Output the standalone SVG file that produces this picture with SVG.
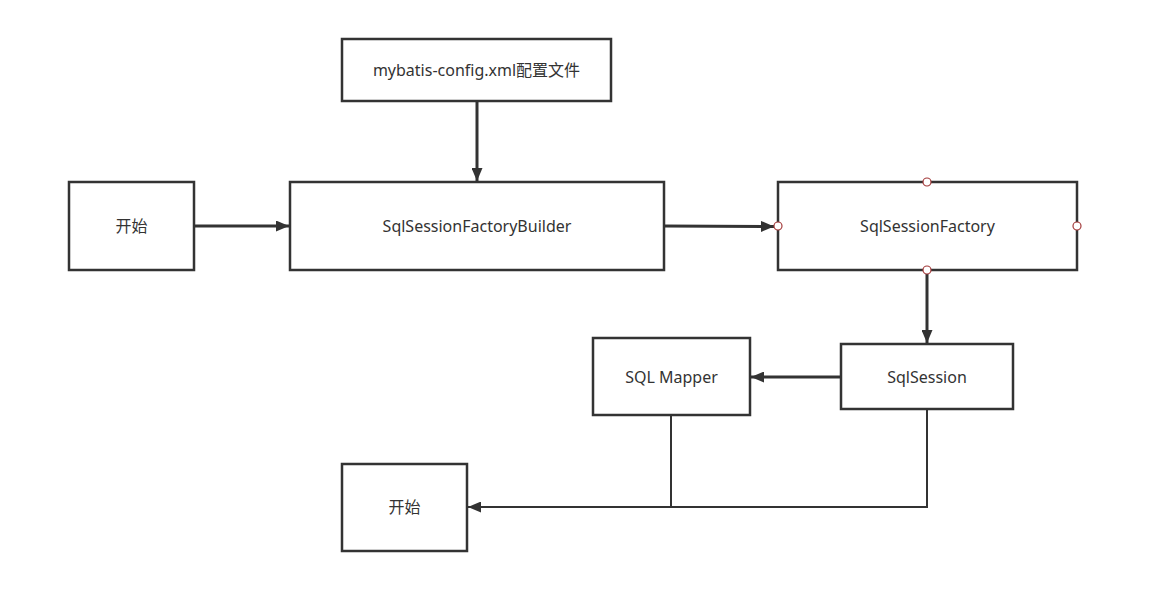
<svg xmlns="http://www.w3.org/2000/svg" width="1164" height="605" viewBox="0 0 1164 605">
<defs>
<style>
.box{fill:#fff;stroke:#333;stroke-width:2.5}
.lbl{font-family:"Noto Sans","Noto Sans CJK SC",sans-serif;font-size:16px;fill:#333;text-anchor:middle;dominant-baseline:central}
.ln{fill:none;stroke:#333;stroke-width:3}
.ln2{fill:none;stroke:#333;stroke-width:2}
.pt{fill:#fff;stroke:#a33a3a;stroke-width:1.2}
</style>
<marker id="ah" viewBox="0 0 13 11" refX="13" refY="5.5" markerWidth="13" markerHeight="11" markerUnits="userSpaceOnUse" orient="auto">
<path d="M0,0 L13,5.5 L0,11 Z" fill="#333"/>
</marker>
</defs>
<rect width="1164" height="605" fill="#fff"/>
<g id="connectors">
<line class="ln" x1="477" y1="101" x2="477" y2="181" marker-end="url(#ah)"/>
<line class="ln" x1="194" y1="226" x2="289" y2="226" marker-end="url(#ah)"/>
<line class="ln" x1="664" y1="226" x2="774" y2="226.5" marker-end="url(#ah)"/>
<line class="ln" x1="927" y1="274" x2="927" y2="343" marker-end="url(#ah)"/>
<line class="ln" x1="841" y1="377" x2="751" y2="377" marker-end="url(#ah)"/>
<polyline class="ln2" points="927,409 927,507 468,507" marker-end="url(#ah)"/>
<line class="ln2" x1="671" y1="415" x2="671" y2="507"/>
</g>
<g id="config"><rect class="box" x="342" y="39" width="269" height="62"/><text class="lbl" x="476.5" y="70">mybatis-config.xml配置文件</text></g>
<g id="start1"><rect class="box" x="69" y="182" width="125" height="88"/><text class="lbl" x="131.5" y="226">开始</text></g>
<g id="builder"><rect class="box" x="290" y="182" width="374" height="88"/><text class="lbl" x="477" y="226">SqlSessionFactoryBuilder</text></g>
<g id="factory"><rect class="box" x="778" y="182" width="299" height="88"/><text class="lbl" x="927.5" y="226">SqlSessionFactory</text>
<circle class="pt" cx="927" cy="182" r="4"/><circle class="pt" cx="778" cy="226" r="4"/><circle class="pt" cx="1077" cy="226" r="4"/><circle class="pt" cx="927" cy="270" r="4"/></g>
<g id="mapper"><rect class="box" x="593" y="338" width="157" height="77"/><text class="lbl" x="671.5" y="377">SQL Mapper</text></g>
<g id="session"><rect class="box" x="841" y="344" width="172" height="65"/><text class="lbl" x="927" y="377">SqlSession</text></g>
<g id="start2"><rect class="box" x="342" y="464" width="125" height="87"/><text class="lbl" x="404.5" y="507">开始</text></g>
</svg>
